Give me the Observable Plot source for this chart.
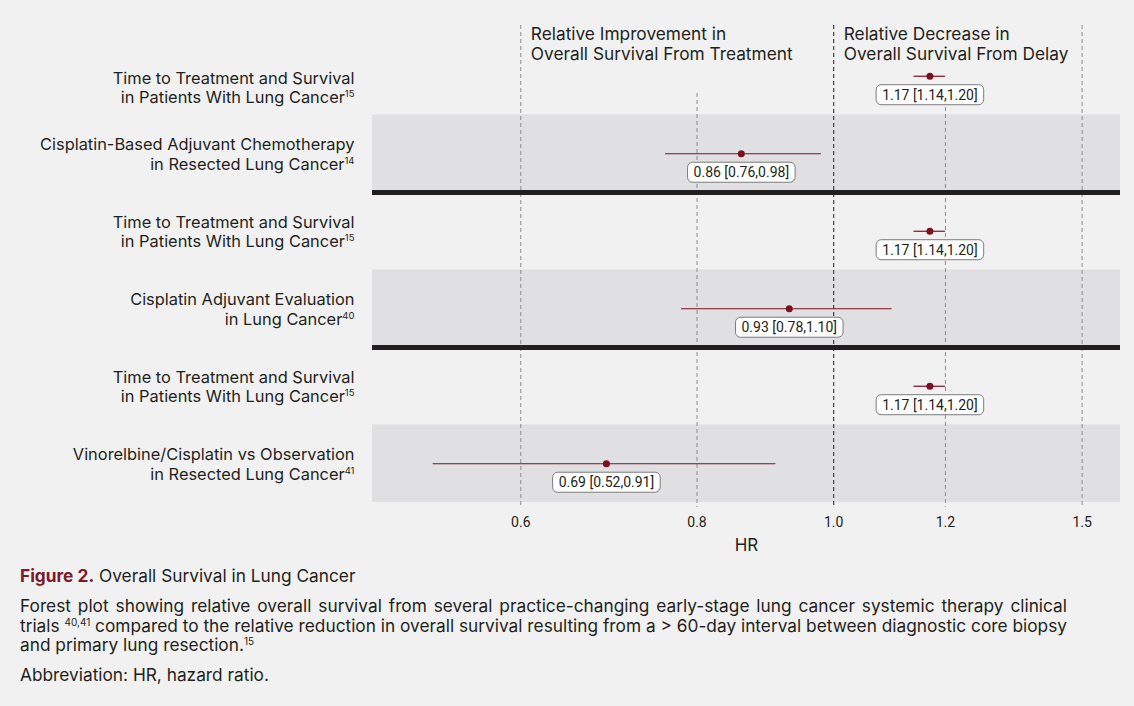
<!DOCTYPE html>
<html><head><meta charset="utf-8">
<script src="https://cdn.jsdelivr.net/npm/d3@7"></script>
<script src="https://cdn.jsdelivr.net/npm/@observablehq/plot@0.6"></script>
<style>
body{margin:0;background:#f1f1f1;font-family:Inter, sans-serif;color:#231f20;}
#chart svg{display:block}
.caption{margin-left:20px;width:1047px;font-size:17.3px;line-height:19.5px;}
.caption .title{margin:6px 0 10px 0;line-height:20px}
.caption .title b{color:#7b1a2c;font-weight:700}
.caption .para{margin:0}
.caption .jl{display:block;text-align:justify;text-align-last:justify;white-space:nowrap}
.caption .ll{display:block}
.caption sup{font-size:10px;line-height:0;vertical-align:6px}
.caption .abbr{margin-top:10px}
</style></head><body>
<div id="chart"></div>
<div class="caption">
<div class="title"><b>Figure 2.</b> Overall Survival in Lung Cancer</div>
<div class="para"><span class="jl">Forest plot showing relative overall survival from several practice-changing early-stage lung cancer systemic therapy clinical</span><span class="jl">trials <sup>40,41</sup> compared to the relative reduction in overall survival resulting from a &gt; 60-day interval between diagnostic core biopsy</span><span class="ll">and primary lung resection.<sup>15</sup></span></div>
<div class="abbr">Abbreviation: HR, hazard ratio.</div>
</div>
<script>
// ---- data ----
const studies = [
  "Time to Treatment and Survival\nin Patients With Lung Cancer",
  "Cisplatin-Based Adjuvant Chemotherapy\nin Resected Lung Cancer",
  "Time to Treatment and Survival\nin Patients With Lung Cancer",
  "Cisplatin Adjuvant Evaluation\nin Lung Cancer",
  "Time to Treatment and Survival\nin Patients With Lung Cancer",
  "Vinorelbine/Cisplatin vs Observation\nin Resected Lung Cancer"
];
const refs = ["15", "14", "15", "40", "15", "41"];
const hr = [1.17, 0.86, 1.17, 0.93, 1.17, 0.69];
const lower = [1.14, 0.76, 1.14, 0.78, 1.14, 0.52];
const upper = [1.20, 0.98, 1.20, 1.10, 1.20, 0.91];
const groups = [1, 1, 2, 2, 3, 3];
const xTicks = [0.6, 0.8, 1.0, 1.2, 1.5];
const xDomain = [0.471, 1.597];
const refValue = 1.0;
const fullGrid = [0.6, 1.5];
const partialGrid = [0.8, 1.2];
const headerAnchors = [0.6, 1.0];
const headerTexts = [
  "Relative Improvement in\nOverall Survival From Treatment",
  "Relative Decrease in\nOverall Survival From Delay"
];

// ---- derived tables ----
const rows = studies.map((s, i) => ({
  row: i + 1, label: s + "^" + refs[i], hr: hr[i], lower: lower[i], upper: upper[i], group: groups[i],
  ci: `${hr[i].toFixed(2)} [${lower[i].toFixed(2)},${upper[i].toFixed(2)}]`
}));
const shaded = rows.filter((d, i) => i % 2 === 1);
const separators = rows.filter((d, i) => i < rows.length - 1 && d.group !== rows[i + 1].group).map(d => d.row + 0.5);
const headers = headerAnchors.map((x, i) => ({x, text: headerTexts[i]}));

const red = "#7b1020";
const ink = "#231f20";

const chart = Plot.plot({
  width: 1134, height: 560,
  marginLeft: 372, marginRight: 14, marginTop: 37, marginBottom: 58,
  style: {fontFamily: "Inter, sans-serif", background: "#f1f1f1", color: ink},
  x: {type: "log", domain: xDomain},
  y: {domain: [0.5, 6.5], reverse: true, axis: null},
  marks: [
    Plot.rect(shaded, {y1: d => d.row - 0.5, y2: d => d.row + 0.5, fill: "#e0e0e2"}),
    Plot.ruleX(fullGrid, {stroke: "#8c8c8c", strokeDasharray: "4,3", insetTop: -12, insetBottom: -5}),
    Plot.ruleX(partialGrid, {stroke: "#8c8c8c", strokeDasharray: "4,3", insetTop: 56, insetBottom: -5}),
    Plot.ruleX([refValue], {stroke: ink, strokeDasharray: "4,3", insetTop: -12, insetBottom: -5}),
    Plot.ruleY(separators, {stroke: ink, strokeWidth: 5}),
    Plot.axisX(xTicks, {tickSize: 0, tickPadding: 15, tickFormat: d3.format(".1f"), fontSize: 14, fontFamily: "Roboto, sans-serif", label: null, color: ink}),
    Plot.text(["HR"], {frameAnchor: "bottom", dy: 48, fontSize: 17, fill: ink}),
    Plot.text(headers, {x: "x", text: "text", frameAnchor: "top", textAnchor: "start", lineAnchor: "middle", dx: 10, dy: 6, fontSize: 17.3, lineHeight: 1.16, fill: ink}),
    Plot.text(rows.slice(0, 1), {y: "row", text: "label", frameAnchor: "left", textAnchor: "end", dx: -18, dy: 11, fontSize: 16.4, lineHeight: 1.2, fill: ink, className: "study-labels"}),
    Plot.text(rows.slice(1), {y: "row", text: "label", frameAnchor: "left", textAnchor: "end", dx: -18, fontSize: 16.4, lineHeight: 1.2, fill: ink, className: "study-labels"}),
    Plot.ruleY(rows, {y: "row", x1: "lower", x2: "upper", stroke: red, strokeWidth: 1.2}),
    Plot.dot(rows, {x: "hr", y: "row", r: 3.5, fill: red}),
    Plot.text(rows, {x: "hr", y: "row", text: "ci", dy: 19, fontSize: 14, fontFamily: "Roboto, sans-serif", fill: ink, className: "ci-labels"})
  ]
});
document.getElementById("chart").appendChild(chart);

// superscript references
const NS = "http://www.w3.org/2000/svg";
chart.querySelectorAll("g.study-labels text").forEach(t => {
  const spans = t.querySelectorAll("tspan");
  const last = spans.length ? spans[spans.length - 1] : t;
  const s = last.textContent;
  const k = s.lastIndexOf("^");
  if (k >= 0) {
    last.textContent = s.slice(0, k);
    const sup = document.createElementNS(NS, "tspan");
    sup.setAttribute("font-size", "9.5");
    sup.setAttribute("dy", "-6");
    sup.textContent = s.slice(k + 1);
    last.appendChild(sup);
  }
});
// rounded label boxes
chart.querySelectorAll("g.ci-labels text").forEach(t => {
  const b = t.getBBox();
  const r = document.createElementNS(NS, "rect");
  r.setAttribute("x", b.x - 6);
  r.setAttribute("y", b.y - 2);
  r.setAttribute("width", b.width + 12);
  r.setAttribute("height", b.height + 4);
  r.setAttribute("rx", 5);
  r.setAttribute("fill", "#ffffff");
  r.setAttribute("stroke", "#7a7a7a");
  r.setAttribute("stroke-width", 1);
  const tr = t.getAttribute("transform");
  if (tr) r.setAttribute("transform", tr);
  t.parentNode.insertBefore(r, t);
});
</script>
</body></html>
